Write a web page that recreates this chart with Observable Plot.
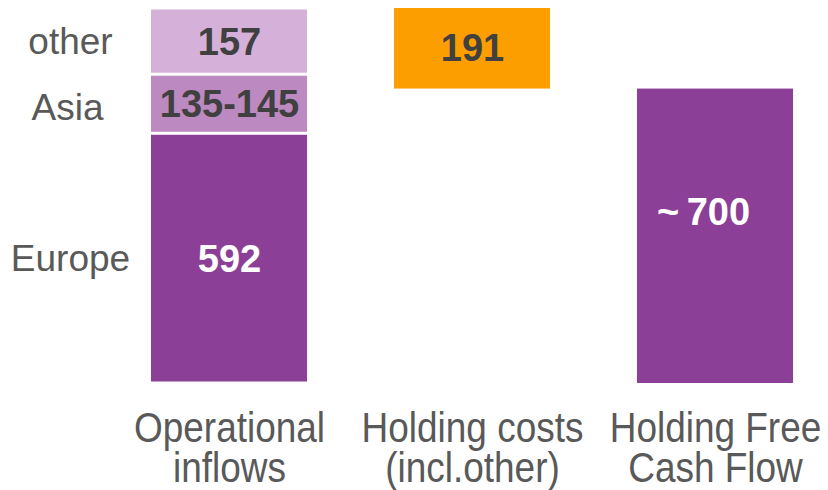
<!DOCTYPE html>
<html>
<head>
<meta charset="utf-8">
<script src="https://cdn.jsdelivr.net/npm/d3@7"></script>
<script src="https://cdn.jsdelivr.net/npm/@observablehq/plot@0.6"></script>
<style>
  html, body { margin: 0; padding: 0; background: #fff; }
  #chart svg { display: block; font-family: "Liberation Sans", Arial, sans-serif; }
</style>
</head>
<body>
<div id="chart"></div>
<script>
// ---- data ----
const categories = ["Operational\ninflows", "Holding costs\n(incl.other)", "Holding Free\nCash Flow"];
const segments = ["Europe", "Asia", "other"];
const segmentValues = [592, 140, 157];
const segmentLabels = ["592", "135-145", "157"];
const segmentColors = ["#8c3f97", "#bc89c0", "#d5b1d9"];
const segmentLabelColors = ["#ffffff", "#404040", "#404040"];
const holdingCosts = 191;
const holdingCostsLabel = "191";
const fcfValue = 698;
const fcfLabel = "~\u2009700";

// ---- build tables ----
let acc = 0;
const stacked = segments.map((s, i) => {
  const y1 = acc; acc += segmentValues[i];
  return {x: categories[0], name: s, y1, y2: acc, label: segmentLabels[i],
          fill: segmentColors[i], textFill: segmentLabelColors[i]};
});
const total = acc;
const floating = [
  {x: categories[1], y1: total - holdingCosts, y2: total, label: holdingCostsLabel, fill: "#fc9e00", textFill: "#404040"},
  {x: categories[2], y1: 0, y2: fcfValue, label: fcfLabel, fill: "#8c3f97", textFill: "#ffffff"}
];

const FONT = "Liberation Sans, Arial, sans-serif";
const mid = d => (d.y1 + d.y2) / 2;
const chart = Plot.plot({
  width: 828,
  height: 490,
  marginTop: 8,
  marginBottom: 107,
  marginLeft: 0,
  marginRight: 0,
  x: {domain: categories, range: [107.5, 836.5], paddingInner: 0.358, paddingOuter: 0.179, label: null},
  y: {domain: [0, total], axis: null},
  marks: [
    Plot.rectY(stacked, {x: "x", y1: "y1", y2: "y2", fill: "fill", insetTop: 1.5, insetBottom: 1.5}),
    Plot.rectY(floating, {x: "x", y1: "y1", y2: "y2", fill: "fill"}),
    Plot.text(stacked, {x: "x", y: mid, text: "label", fill: "textFill",
      dy: 1, fontSize: 38, fontWeight: "bold", fontFamily: FONT}),
    Plot.text(stacked.filter(d => d.name !== "Asia"), {x: "x", y: mid, text: "name", fill: "#595959",
      dx: -159, dy: 1, fontSize: 37, fontFamily: FONT}),
    Plot.text(stacked.filter(d => d.name === "Asia"), {x: "x", y: mid, text: "name", fill: "#595959",
      dx: -162, dy: 4, fontSize: 37, fontFamily: FONT}),
    Plot.text(floating.slice(0, 1), {x: "x", y: mid, text: "label", fill: "textFill",
      fontSize: 38, fontWeight: "bold", fontFamily: FONT}),
    Plot.text(floating.slice(1), {x: "x", y: mid, text: "label", fill: "textFill",
      dx: -12, dy: -23, fontSize: 38, fontWeight: "bold", fontFamily: FONT}),
    Plot.axisX({tickSize: 0, tickPadding: 30, fontSize: 42, lineHeight: 0.95, fill: "#595959",
      fontFamily: FONT, label: null})
  ]
});
// narrow the category labels horizontally, as in the reference
d3.select(chart).selectAll("g[aria-label='x-axis tick label'] text").each(function () {
  const t = this.getAttribute("transform") || "";
  this.setAttribute("transform", t + " scale(0.88,1)");
});
document.getElementById("chart").appendChild(chart);
</script>
</body>
</html>
